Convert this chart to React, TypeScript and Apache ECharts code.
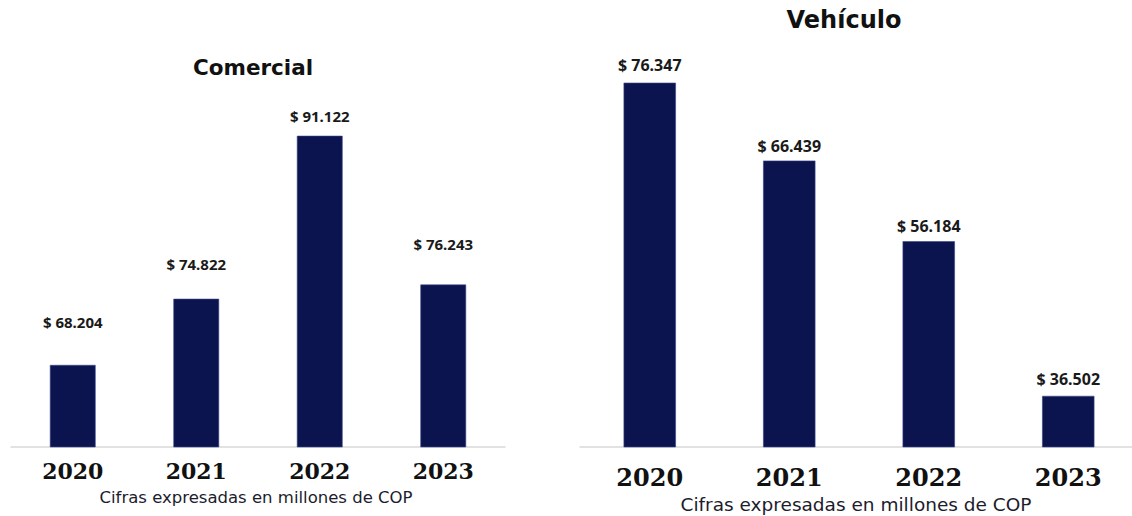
import React, { useEffect, useRef } from "react";
import * as echarts from "echarts";

const years = ["2020", "2021", "2022", "2023"];
const comercialValues = [68.204, 74.822, 91.122, 76.243];
const vehiculoValues = [76.347, 66.439, 56.184, 36.502];
const titleLeft = "Comercial";
const titleRight = "Vehículo";
const footnote = "Cifras expresadas en millones de COP";

const BAR = "#0c1450";

export default function App() {
  const ref = useRef<HTMLDivElement>(null);
  useEffect(() => {
    document.body.style.margin = "0";
    document.body.style.overflow = "hidden";
    if (!ref.current) return;
    const chart = echarts.init(ref.current, null, { renderer: "svg" });
    const leftGaps = [35, 27, 12, 33];
    const rightGaps = [10, 7, 7, 9];
    const fmt = (p: any) => "$ " + Number(p.value).toFixed(3);
    const mk = (vals: number[], gaps: number[]) =>
      vals.map((v, i) => ({
        value: v,
        label: { distance: gaps[i] },
      }));
    chart.setOption({
      animation: false,
      backgroundColor: "#ffffff",
      grid: [
        { left: 11, width: 494, top: 47, bottom: 69 },
        { left: 580, width: 558, top: 54, bottom: 69 },
      ],
      xAxis: [
        {
          gridIndex: 0,
          type: "category",
          data: years,
          axisLine: { lineStyle: { color: "#d9d9d9", width: 1.5 } },
          axisTick: { show: false },
          axisLabel: {
            margin: 13,
            fontFamily: "DejaVu Serif",
            fontWeight: "bold",
            fontSize: 22,
            color: "#111",
          },
        },
        {
          gridIndex: 1,
          type: "category",
          data: years,
          axisLine: { lineStyle: { color: "#d9d9d9", width: 1.5 } },
          axisTick: { show: false },
          axisLabel: {
            margin: 18,
            fontFamily: "DejaVu Serif",
            fontWeight: "bold",
            fontSize: 24,
            color: "#111",
          },
        },
      ],
      yAxis: [
        { gridIndex: 0, type: "value", min: 60, max: 100, show: false },
        { gridIndex: 1, type: "value", min: 30, max: 80, show: false },
      ],
      series: [
        {
          type: "bar",
          xAxisIndex: 0,
          yAxisIndex: 0,
          data: mk(comercialValues, leftGaps),
          barWidth: "37%",
          itemStyle: { color: BAR, borderColor: "#3b4684", borderWidth: 0.6 },
          label: {
            show: true,
            position: "top",
            formatter: fmt,
            fontFamily: "Noto Sans",
            fontWeight: "bold",
            fontSize: 15,
            color: "#1a1a1a",
          },
        },
        {
          type: "bar",
          xAxisIndex: 1,
          yAxisIndex: 1,
          data: mk(vehiculoValues, rightGaps),
          barWidth: "37.5%",
          itemStyle: { color: BAR, borderColor: "#3b4684", borderWidth: 0.6 },
          label: {
            show: true,
            position: "top",
            formatter: fmt,
            fontFamily: "Noto Sans",
            fontWeight: "bold",
            fontSize: 16,
            color: "#1a1a1a",
          },
        },
      ],
      graphic: [
        {
          type: "text",
          x: 253,
          y: 67,
          style: {
            text: titleLeft,
            fontFamily: "DejaVu Sans",
            fontWeight: "bold",
            fontSize: 21.5,
            fill: "#111",
            textAlign: "center",
            textVerticalAlign: "middle",
          },
        },
        {
          type: "text",
          x: 844,
          y: 20,
          style: {
            text: titleRight,
            fontFamily: "DejaVu Sans",
            fontWeight: "bold",
            fontSize: 24,
            fill: "#111",
            textAlign: "center",
            textVerticalAlign: "middle",
          },
        },
        {
          type: "text",
          x: 256,
          y: 497,
          style: {
            text: footnote,
            fontFamily: "DejaVu Sans",
            fontSize: 16.5,
            fill: "#1c1c2c",
            textAlign: "center",
            textVerticalAlign: "middle",
          },
        },
        {
          type: "text",
          x: 856,
          y: 504,
          style: {
            text: footnote,
            fontFamily: "DejaVu Sans",
            fontSize: 18.5,
            fill: "#1c1c2c",
            textAlign: "center",
            textVerticalAlign: "middle",
          },
        },
      ],
    });
    return () => chart.dispose();
  }, []);
  return <div ref={ref} style={{ width: 1140, height: 516 }} />;
}
